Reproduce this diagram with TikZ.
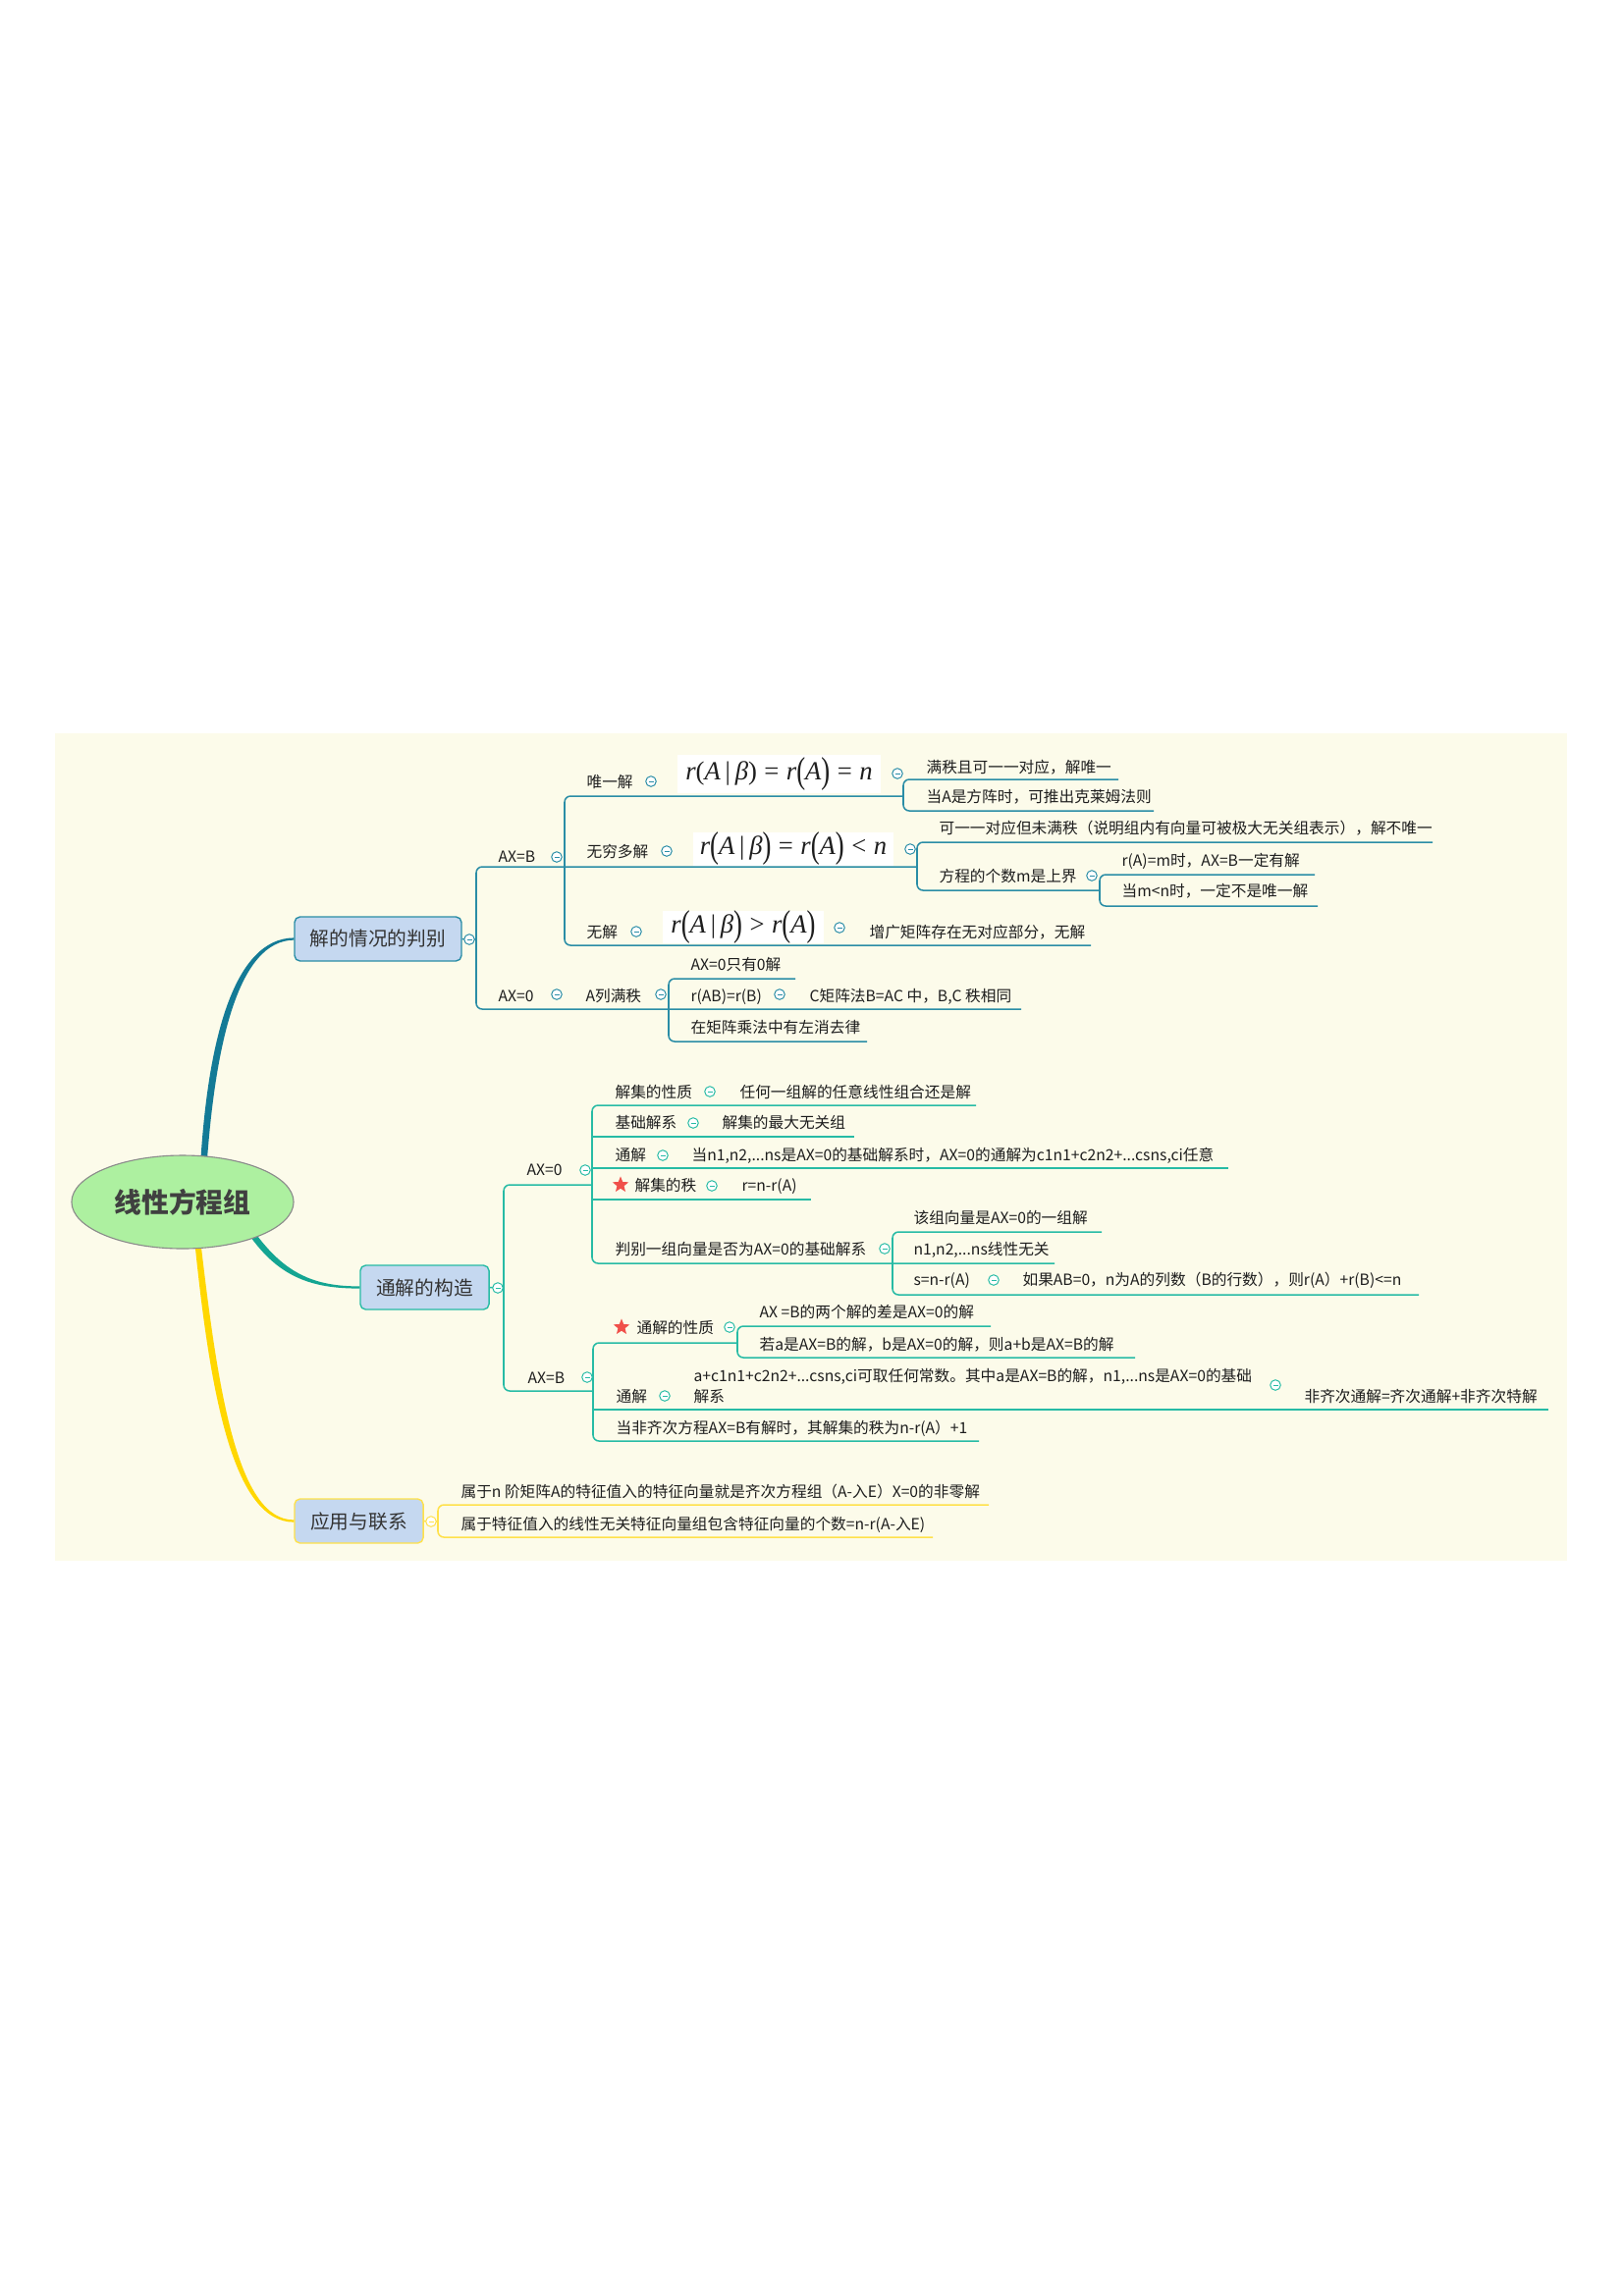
\documentclass[tikz,border=0pt]{standalone}
\usepackage{fontspec}
\usepackage{graphicx}
\setmainfont{Noto Sans CJK SC}
\newfontfamily\tnr{Liberation Serif}
\newcommand{\fv}[1]{{\tnr\itshape #1}}
\newcommand{\fp}[1]{{\tnr #1}}
\newcommand{\bpar}[1]{\raisebox{-0.22ex}{\scalebox{1}[1.4]{\tnr #1}}}
\newcommand{\feq}[1]{\hspace{0.28em}{\tnr #1}\hspace{0.28em}}
\newcommand{\fbar}{\hspace{0.18em}{\tnr |}\hspace{0.18em}}
\usetikzlibrary{shapes.geometric,calc}
\definecolor{bgc}{HTML}{FCFBEA}
\definecolor{rootfill}{HTML}{ADF0A0}
\definecolor{rootdraw}{HTML}{8A8A8A}
\definecolor{boxfill}{HTML}{C5D8F0}
\definecolor{cA}{HTML}{2A8DA6}
\definecolor{cAthick}{HTML}{137A96}
\definecolor{cB}{HTML}{27BBA5}
\definecolor{cBthick}{HTML}{14A592}
\definecolor{cC}{HTML}{FFE14A}
\definecolor{cCthick}{HTML}{FFD700}
\definecolor{txt}{HTML}{1E1E1E}
\definecolor{boxtxt}{HTML}{333333}
\definecolor{roottxt}{HTML}{404040}
\definecolor{starred}{HTML}{F0504A}
\begin{document}
\begin{tikzpicture}[x=0.36pt,y=-0.36pt,
  lbl/.style={anchor=west,inner sep=0pt,text=txt,font=\fontsize{5.65pt}{6.8pt}\selectfont,text height=5pt,text depth=0.7pt},
  bbox/.style={rounded corners=2pt,draw=#1,line width=0.5pt,fill=boxfill,inner sep=0pt,text=boxtxt,font=\fontsize{7.1pt}{8.5pt}\selectfont,minimum height=16.2pt},
  foldc/.style={circle,draw=#1,fill=white,line width=0.35pt,minimum size=3.8pt,inner sep=0pt,
    path picture={\draw[#1,line width=0.35pt] ([xshift=-0.9pt]path picture bounding box.center) -- ([xshift=0.9pt]path picture bounding box.center);}},
  ln/.style={draw=#1,line width=0.55pt,rounded corners=2.2pt},
  fml/.style={fill=white,inner sep=0pt,text=txt,font=\fontsize{9.6pt}{11pt}\selectfont},
  starn/.style={star,star points=5,star point ratio=2.3,fill=starred,minimum size=6.2pt,inner sep=0pt},
]
\useasboundingbox (0,0) rectangle (1653,2339);
\fill[white] (0,0) rectangle (1653,2339);
\fill[bgc] (56,747) rectangle (1596,1590);

% main topics
\node[bbox=cA,minimum width=61.2pt] (b1) at (385,956.5) {解的情况的判别};
\node[bbox=cB,minimum width=47.2pt] (b2) at (432.5,1311.5) {通解的构造};
\node[bbox=cC,minimum width=47.2pt] (b3) at (365.5,1549.5) {应用与联系};

% root connectors
\coordinate (rt1) at (207,1192);
\coordinate (rt2) at (252,1250);
\coordinate (rt3) at (201,1262);
\fill[cAthick] ($(rt1)+(-3.2,0)$) .. controls (211,1060) and (238,955.8) .. ($(b1.west)+(0,-1.1)$) -- ($(b1.west)+(0,1.1)$) .. controls (243,958.2) and (219,1062) .. ($(rt1)+(3.2,0)$) -- cycle;
\fill[cBthick] ($(rt2)+(-2.5,1.7)$) .. controls (282,1302) and (318,1312.6) .. ($(b2.west)+(0,1.1)$) -- ($(b2.west)+(0,-1.1)$) .. controls (320,1310.4) and (288,1298) .. ($(rt2)+(2.5,-1.7)$) -- cycle;
\fill[cCthick] ($(rt3)+(-3,0)$) .. controls (214,1422) and (238,1550.6) .. ($(b3.west)+(0,1.1)$) -- ($(b3.west)+(0,-1.1)$) .. controls (242,1548.4) and (222,1418) .. ($(rt3)+(3,0)$) -- cycle;

\node[ellipse,draw=rootdraw,line width=0.4pt,fill=rootfill,minimum width=81.4pt,minimum height=34.2pt,inner sep=0pt,text=roottxt,font=\fontsize{10pt}{12pt}\selectfont\bfseries] (root) at (186,1224.5) {线性方程组};

% ---------- branch 1 texts
\node[lbl] (ab) at (507,873) {AX=B};
\node[lbl] (u1) at (597,797) {唯一解};
\node[fml,minimum width=74.5pt,minimum height=14pt] (f1) at (793.5,788.5) {\fv{r}\fp{(}\fv{A}\fbar\fv{β}\fp{)}\feq{=}\fv{r}\bpar{(}\fv{A}\bpar{)}\feq{=}\fv{n}};
\node[lbl] (u1a) at (943,782) {满秩且可一一对应，解唯一};
\node[lbl] (u1b) at (943,812) {当A是方阵时，可推出克莱姆法则};
\node[lbl] (u2) at (597,868) {无穷多解};
\node[fml,minimum width=73.4pt,minimum height=11.5pt] (f2) at (808,865) {\fv{r}\bpar{(}\fv{A}\fbar\fv{β}\bpar{)}\feq{=}\fv{r}\bpar{(}\fv{A}\bpar{)}\feq{<}\fv{n}};
\node[lbl] (u2a) at (956,844) {可一一对应但未满秩（说明组内有向量可被极大无关组表示），解不唯一};
\node[lbl] (u2b) at (956,893) {方程的个数m是上界};
\node[lbl] (u2b1) at (1142,877) {r(A)=m时，AX=B一定有解};
\node[lbl] (u2b2) at (1142,908) {当m<n时，一定不是唯一解};
\node[lbl] (u3) at (597,950) {无解};
\node[fml,minimum width=58.7pt,minimum height=11.8pt] (f3) at (757,944.5) {\fv{r}\bpar{(}\fv{A}\fbar\fv{β}\bpar{)}\feq{>}\fv{r}\bpar{(}\fv{A}\bpar{)}};
\node[lbl] (u3a) at (885,950) {增广矩阵存在无对应部分，无解};
\node[lbl] (a0) at (507,1015) {AX=0};
\node[lbl] (a0a) at (596,1015) {A列满秩};
\node[lbl] (a0a1) at (703,983) {AX=0只有0解};
\node[lbl] (a0a2) at (703,1015) {r(AB)=r(B)};
\node[lbl] (a0a2a) at (824,1015) {C矩阵法B=AC 中，B,C 秩相同};
\node[lbl] (a0a3) at (703,1047) {在矩阵乘法中有左消去律};

% ---------- branch 2 texts
\node[lbl] (p0) at (536,1192) {AX=0};
\node[lbl] (p1) at (626,1113) {解集的性质};
\node[lbl] (p1a) at (753,1113) {任何一组解的任意线性组合还是解};
\node[lbl] (p2) at (626,1144) {基础解系};
\node[lbl] (p2a) at (735,1144) {解集的最大无关组};
\node[lbl] (p3) at (626,1177) {通解};
\node[lbl] (p3a) at (704,1177) {当n1,n2,...ns是AX=0的基础解系时，AX=0的通解为c1n1+c2n2+...csns,ci任意};
\node[starn] (s1) at (632,1207) {};
\node[lbl] (p4) at (646,1208) {解集的秩};
\node[lbl] (p4a) at (755,1208) {r=n-r(A)};
\node[lbl] (p5) at (626,1273) {判别一组向量是否为AX=0的基础解系};
\node[lbl] (p5a) at (930,1241) {该组向量是AX=0的一组解};
\node[lbl] (p5b) at (930,1273) {n1,n2,...ns线性无关};
\node[lbl] (p5c) at (930,1304) {s=n-r(A)};
\node[lbl] (p5c1) at (1041,1304) {如果AB=0，n为A的列数（B的行数），则r(A）+r(B)<=n};
\node[lbl] (q0) at (537,1404) {AX=B};
\node[starn] (s2) at (633,1352) {};
\node[lbl] (q1) at (648,1353) {通解的性质};
\node[lbl] (q1a) at (773,1337) {AX =B的两个解的差是AX=0的解};
\node[lbl] (q1b) at (773,1370) {若a是AX=B的解，b是AX=0的解，则a+b是AX=B的解};
\node[lbl] (q2) at (627,1423) {通解};
\node[lbl] (q2a) at (706,1402) {a+c1n1+c2n2+...csns,ci可取任何常数。其中a是AX=B的解，n1,...ns是AX=0的基础};
\node[lbl] (q2b) at (706,1423) {解系};
\node[lbl] (q2c) at (1328,1423) {非齐次通解=齐次通解+非齐次特解};
\node[lbl] (q3) at (627,1455) {当非齐次方程AX=B有解时，其解集的秩为n-r(A）+1};

% ---------- branch 3 texts
\node[lbl] (w1) at (469,1520) {属于n 阶矩阵A的特征值入的特征向量就是齐次方程组（A-入E）X=0的非零解};
\node[lbl] (w2) at (469,1553) {属于特征值入的线性无关特征向量组包含特征向量的个数=n-r(A-入E)};

% ---------- branch 1 lines
\draw[ln=cA] (b1.east) -- (485,957);
\draw[ln=cA] (934,883) -- (485,883) -- (485,1028) -- (1040,1028);
\draw[ln=cA] (920,811) -- (575,811) -- (575,963) -- (1111,963);
\draw[ln=cA] (1139,794) -- (920,794) -- (920,826) -- (1175,826);
\draw[ln=cA] (1459,858) -- (934,858) -- (934,907) -- (1120,907);
\draw[ln=cA] (1339,891) -- (1120,891) -- (1120,923) -- (1342,923);
\draw[ln=cA] (810,997) -- (681,997) -- (681,1061) -- (883,1061);

% ---------- branch 2 lines
\draw[ln=cB] (b2.east) -- (513,1312);
\draw[ln=cB] (603,1207) -- (513,1207) -- (513,1417) -- (604,1417);
\draw[ln=cB] (994,1126) -- (603,1126) -- (603,1287) -- (1074,1287);
\draw[ln=cB] (603,1158) -- (870,1158);
\draw[ln=cB] (603,1190) -- (1251,1190);
\draw[ln=cB] (603,1222) -- (826,1222);
\draw[ln=cB] (1122,1255) -- (909,1255) -- (909,1319) -- (1445,1319);
\draw[ln=cB] (751,1368) -- (604,1368) -- (604,1468) -- (997,1468);
\draw[ln=cB] (604,1436) -- (1577,1436);
\draw[ln=cB] (1009,1351) -- (751,1351) -- (751,1383) -- (1156,1383);

% ---------- branch 3 lines
\draw[ln=cC] (b3.east) -- (446,1550);
\draw[ln=cC] (1007,1533) -- (446,1533) -- (446,1566) -- (950,1566);

% ---------- fold markers
\foreach \p [count=\i] in {(478,957),(567,873),(663,796),(914,788),(679,867),(927,865),(1112,892),(648,949),(855,945),(567,1013),(673,1013),(794,1013)}
  \node[foldc=cA] (ka\i) at \p {};
\foreach \p [count=\i] in {(507,1312),(596,1192),(723,1112),(706,1144),(675,1177),(725,1208),(901,1272),(1012,1304),(598,1403),(743,1352),(677,1422),(1299,1411)}
  \node[foldc=cB] (kb\i) at \p {};
\node[foldc=cC] (kc1) at (439,1550) {};
\end{tikzpicture}
\end{document}
